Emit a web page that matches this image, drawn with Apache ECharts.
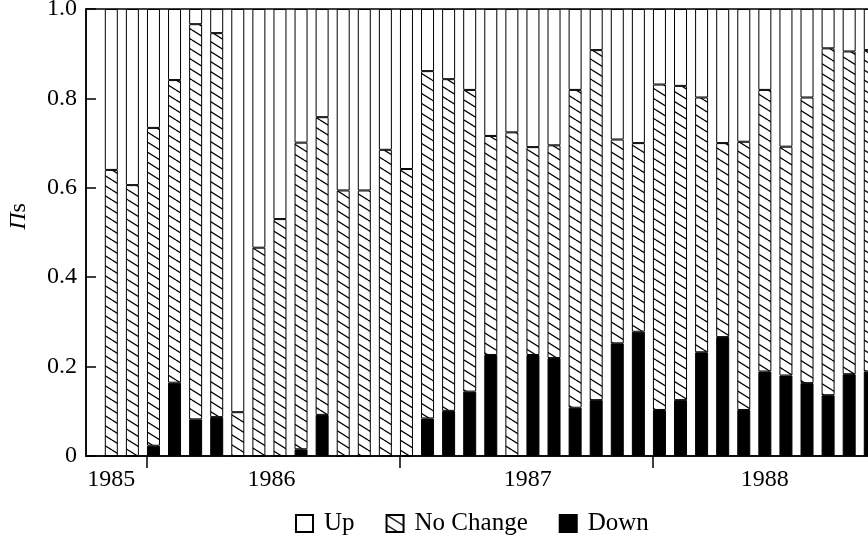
<!DOCTYPE html>
<html><head><meta charset="utf-8">
<script src="https://cdn.jsdelivr.net/npm/echarts@6/dist/echarts.min.js"></script>
<style>html,body{margin:0;padding:0;background:#fff}#c{width:868px;height:539px}</style>
</head><body><div id="c"></div>
<script>
// Monthly categories (Nov 1985 - Nov 1988, last one cut at the right edge)
const months = ['1985-11','1985-12',
  '1986-01','1986-02','1986-03','1986-04','1986-05','1986-06','1986-07','1986-08','1986-09','1986-10','1986-11','1986-12',
  '1987-01','1987-02','1987-03','1987-04','1987-05','1987-06','1987-07','1987-08','1987-09','1987-10','1987-11','1987-12',
  '1988-01','1988-02','1988-03','1988-04','1988-05','1988-06','1988-07','1988-08','1988-09','1988-10','1988-11'];
const down = [0,0,
  0.023,0.164,0.082,0.087,0,0,0,0.015,0.092,0,0,0,
  0,0.084,0.101,0.144,0.226,0,0.226,0.219,0.108,0.125,0.252,0.278,
  0.103,0.125,0.232,0.266,0.103,0.189,0.180,0.163,0.136,0.183,0.189];
const noChange = [0.640,0.606,
  0.711,0.677,0.884,0.859,0.098,0.466,0.530,0.686,0.666,0.594,0.594,0.685,
  0.642,0.777,0.742,0.675,0.490,0.724,0.465,0.476,0.711,0.783,0.456,0.422,
  0.728,0.703,0.570,0.434,0.600,0.630,0.512,0.639,0.776,0.722,0.719];
const up = [0.360,0.394,
  0.266,0.159,0.034,0.054,0.902,0.534,0.470,0.299,0.242,0.406,0.406,0.315,
  0.358,0.139,0.157,0.181,0.284,0.276,0.309,0.305,0.181,0.092,0.292,0.300,
  0.169,0.172,0.198,0.300,0.297,0.181,0.308,0.198,0.088,0.095,0.092];
const years = ['1985','1986','1987','1988'];
const seriesNames = ['Up','No Change','Down'];
const yAxisNameParts = ['Π', 's'];

// month position relative to Jan 1986
function monthPos(s){ const p = s.split('-').map(Number); return (p[0]-1986)*12 + (p[1]-1); }
const xs = months.map(monthPos);

function hatch(){
  const c = document.createElement('canvas'); c.width = 16; c.height = 10;
  const g = c.getContext('2d');
  g.fillStyle = '#fff'; g.fillRect(0,0,16,10);
  g.strokeStyle = '#000'; g.lineWidth = 1.3;
  for (const dy of [-10,0,10]) { g.beginPath(); g.moveTo(0,dy); g.lineTo(16,dy+10); g.stroke(); }
  return c;
}
const FONT = "'Liberation Serif','DejaVu Serif',serif";
const halfBar = 0.31;
const yearTicks = [0,12,24].map(v => v - halfBar);
const yearLabelPos = [-2, 5.6, 17.75, 29];

function mk(name, arr, color){
  return {
    name: name, type: 'bar', stack: 'all', barWidth: 13,
    // value first so that the value dimension is the stacked one
    data: arr.map((v,i) => [v, xs[i]]),
    encode: { x: 1, y: 0 },
    itemStyle: { color: color, borderColor: '#000', borderWidth: 1 },
    emphasis: { disabled: true },
    animation: false
  };
}

const chart = echarts.init(document.getElementById('c'), null, {renderer:'canvas'});
chart.setOption({
  backgroundColor: '#fff',
  animation: false,
  grid: { left: 86, top: 9, width: 818, height: 447, outerBoundsMode: 'none', containLabel: false,
          show: true, borderColor: '#000', borderWidth: 1.5, backgroundColor: 'transparent' },
  legend: {
    data: seriesNames, top: 506, left: 290, itemWidth: 17, itemHeight: 17, itemGap: 31,
    textStyle: { fontFamily: FONT, fontSize: 25, color: '#000', padding: [0,0,0,6] },
    icon: 'rect'
  },
  xAxis: {
    type: 'value', min: -3.2, max: 35.6,
    axisLine: { show: true, onZero: false, lineStyle: { color: '#000', width: 1.5 } },
    splitLine: { show: false },
    axisTick: { show: true, inside: false, length: 12, customValues: yearTicks, lineStyle: { color: '#000', width: 1.5 } },
    axisLabel: {
      customValues: yearLabelPos, margin: 12,
      fontFamily: FONT, fontSize: 24, color: '#000',
      formatter: v => years[Math.floor((v + 0.5) / 12) + 1]
    }
  },
  yAxis: {
    type: 'value', min: 0, max: 1, interval: 0.2,
    name: '{i|' + yAxisNameParts[0] + '}{n|' + yAxisNameParts[1] + '}',
    nameLocation: 'middle', nameGap: 55, nameRotate: 90,
    nameTextStyle: { fontFamily: FONT, fontSize: 24, color: '#000', padding: [0,0,0,32],
      rich: { i: { fontFamily: FONT, fontSize: 24, fontStyle: 'italic', color: '#000' },
              n: { fontFamily: FONT, fontSize: 24, color: '#000' } } },
    axisLine: { show: true, onZero: false, lineStyle: { color: '#000', width: 1.5 } },
    splitLine: { show: false },
    axisTick: { show: true, inside: true, length: 10, lineStyle: { color: '#000', width: 1.5 } },
    axisLabel: { margin: 9, fontFamily: FONT, fontSize: 24, color: '#000',
      formatter: v => v === 0 ? '0' : v.toFixed(1) }
  },
  series: [
    mk('Down', down, '#000'),
    mk('No Change', noChange, { image: hatch(), repeat: 'repeat' }),
    mk('Up', up, '#fff')
  ]
});
</script></body></html>
